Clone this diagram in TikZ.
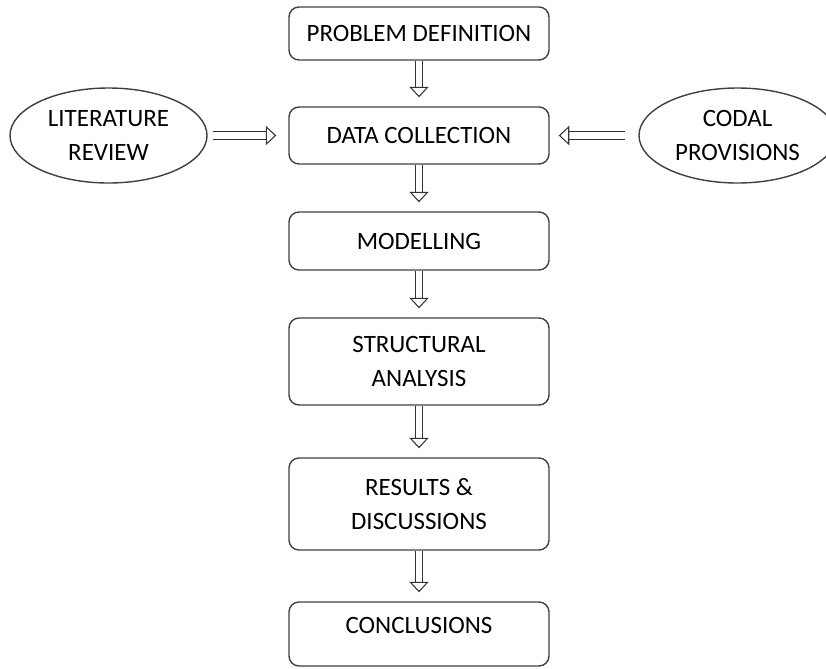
\documentclass[tikz,border=0pt]{standalone}
\usepackage{fontspec}
\setmainfont{Carlito}
\usetikzlibrary{shapes,arrows.meta}

\begin{document}
\begin{tikzpicture}[auto, line width=0.8pt, >={Triangle[open,length=6pt,width=11pt]},
  stage/.style={draw=black!75, rounded corners=0.2cm, minimum width=5.2cm, align=center, font=\fontsize{14.2}{19}\selectfont},
  source/.style={draw=black!75, ellipse, minimum width=3.94cm, minimum height=1.9cm, align=center, font=\fontsize{14.2}{19}\selectfont},
  flow/.style={draw=black!80, line width=0.6pt, double=white, double distance=3.6pt, ->}]
%%%
\clip (0,0) rectangle (16.52,-13.36);

% boxes
\node[stage, minimum height=1.06cm] (PD) at (8.38, -0.67) {PROBLEM DEFINITION};
\node[stage, minimum height=1.14cm] (DC) at (8.38, -2.71) {DATA COLLECTION};
\node[stage, minimum height=1.16cm] (MO) at (8.38, -4.82) {MODELLING};
\node[stage, minimum height=1.74cm] (SA) at (8.38, -7.23) {STRUCTURAL\\ANALYSIS};
\node[stage, minimum height=1.84cm] (RD) at (8.38, -10.08) {RESULTS \&\\DISCUSSIONS};
\node[stage, minimum height=1.28cm, text depth=0.35cm] (CO) at (8.38, -12.68) {CONCLUSIONS};

% inputs
\node[source] (LR) at (2.17, -2.71) {LITERATURE\\REVIEW};
\node[source] (CP) at (14.75, -2.71) {CODAL\\PROVISIONS};

% arrows
\draw[flow, shorten >=0.18cm] (PD) -- (DC);
\draw[flow, shorten >=0.18cm] (DC) -- (MO);
\draw[flow, shorten >=0.18cm] (MO) -- (SA);
\draw[flow, shorten >=0.18cm] (SA) -- (RD);
\draw[flow, shorten >=0.18cm] (RD) -- (CO);

\draw[flow, shorten <=0.1cm, shorten >=0.24cm] (LR) -- (DC);
\draw[flow, shorten <=0.26cm, shorten >=0.18cm] (CP) -- (DC);
%%%
\end{tikzpicture}
\end{document}
